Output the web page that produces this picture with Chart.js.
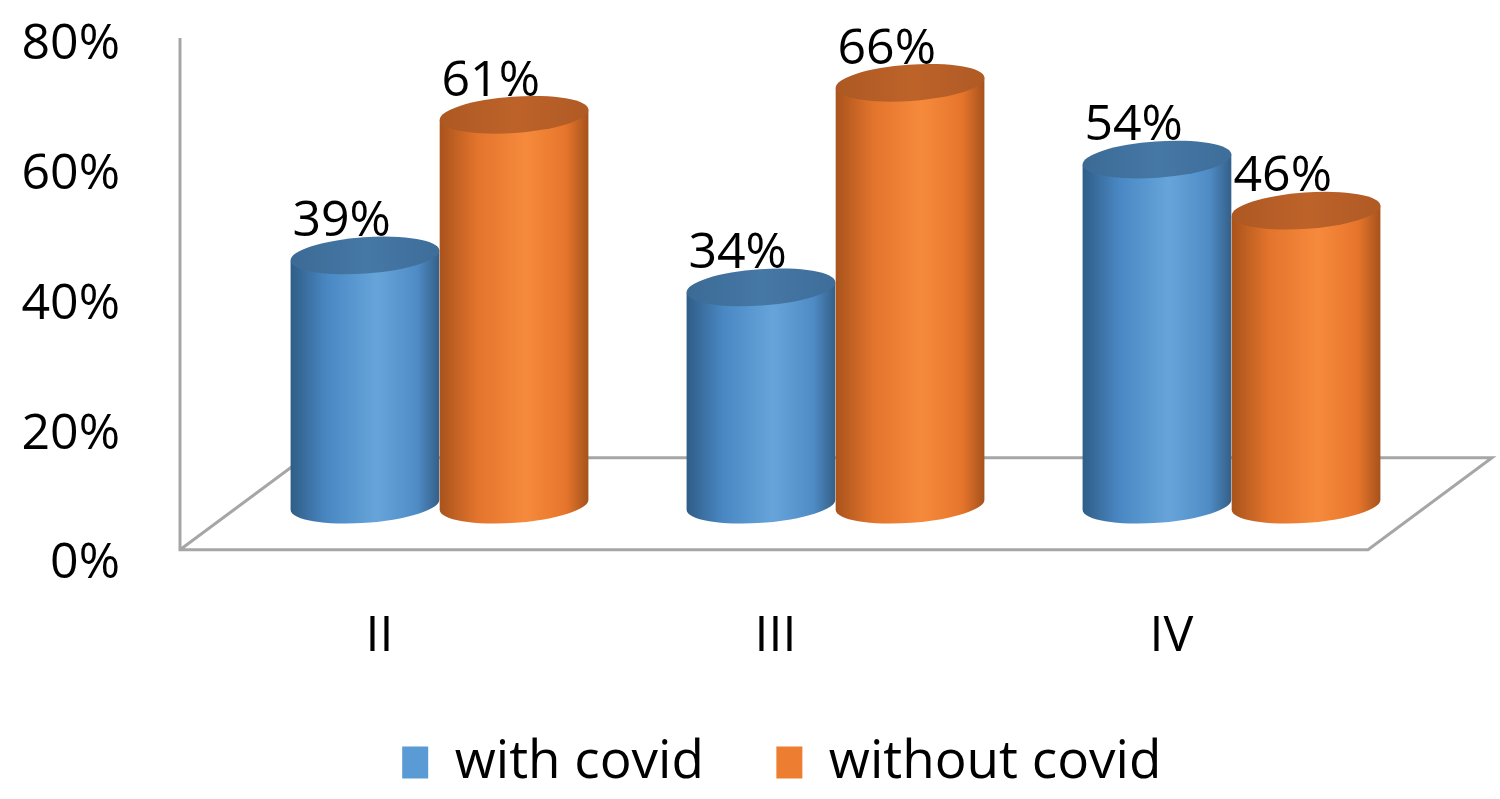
<!DOCTYPE html>
<html>
<head>
<meta charset="utf-8">
<script src="https://cdn.jsdelivr.net/npm/chart.js@4/dist/chart.umd.min.js"></script>
<style>
  html, body { margin: 0; padding: 0; background: #ffffff; }
  #wrap { width: 1500px; height: 799px; position: relative; }
</style>
</head>
<body>
<div id="wrap"><canvas id="c"></canvas></div>
<script>
// ---- data ----
const categories = ['II', 'III', 'IV'];
const seriesNames = ['with covid', 'without covid'];
const withCovid = [39, 34, 54];
const withoutCovid = [61, 66, 46];
const tickMin = 0;
const tickMax = 80;
const tickStep = 20;

// ---- styles ----
const FONT = "'Open Sans', 'Noto Sans', sans-serif";
const legendColors = ['#5b9bd5', '#ed7d31'];
const bodyStops = [
  ['#2f5d87', '#4a88c4', '#66a4da', '#4f8cc6', '#345f88'],
  ['#a9531c', '#e2742c', '#f68a3c', '#e6752b', '#a5521d']
];
const topStops = [
  ['#3b6a95', '#4678a6', '#3e6d99'],
  ['#ad5822', '#bd632a', '#b05a24']
];

const cylinders3d = {
  id: 'cylinders3d',
  beforeDatasetsDraw(chart) {
    const ctx = chart.ctx;
    const x = chart.scales.x, yb = chart.scales.yBar, yt = chart.scales.y;

    // value-axis tick labels (right aligned)
    ctx.save();
    ctx.font = '50px ' + FONT;
    ctx.fillStyle = '#000000';
    ctx.textAlign = 'right';
    ctx.textBaseline = 'middle';
    yt.ticks.forEach((t) => {
      ctx.fillText(t.label, 120, yt.getPixelForValue(t.value));
    });
    ctx.restore();

    // floor / wall frame
    const base = yb.getPixelForValue(0);
    const front = base + 45;
    const back = base - 47;
    const depthX = 124;
    const left = 180;
    const right = x.right - 61.5;
    ctx.save();
    ctx.strokeStyle = '#a6a6a6';
    ctx.lineWidth = 3;
    ctx.lineJoin = 'miter';
    ctx.beginPath();
    ctx.moveTo(left, chart.chartArea.top - 7);
    ctx.lineTo(left, front);
    ctx.lineTo(right, front);
    ctx.lineTo(right + depthX, back);
    ctx.lineTo(left + depthX, back);
    ctx.lineTo(left, front);
    ctx.stroke();
    ctx.restore();

    // cylinders
    const rot = -0.07;
    chart.data.datasets.forEach((ds, di) => {
      const meta = chart.getDatasetMeta(di);
      meta.data.forEach((bar) => {
        const p = bar.getProps(['x', 'y', 'base', 'width'], true);
        const rx = p.width / 2;
        const ry = p.width * 0.122;
        const c = Math.cos(rot), s = Math.sin(rot);
        const cx = p.x;
        const lt = { x: cx - rx * c, y: p.y - rx * s };
        const rt = { x: cx + rx * c, y: p.y + rx * s };
        const lb = { x: cx - rx * c, y: p.base - rx * s };
        const g = ctx.createLinearGradient(cx - rx, 0, cx + rx, 0);
        const st = bodyStops[di];
        g.addColorStop(0, st[0]);
        g.addColorStop(0.25, st[1]);
        g.addColorStop(0.58, st[2]);
        g.addColorStop(0.85, st[3]);
        g.addColorStop(1, st[4]);
        ctx.save();
        ctx.fillStyle = g;
        ctx.beginPath();
        ctx.moveTo(lt.x, lt.y);
        ctx.lineTo(lb.x, lb.y);
        ctx.ellipse(cx, p.base, rx, ry, rot, Math.PI, 0, true);
        ctx.lineTo(rt.x, rt.y);
        ctx.closePath();
        ctx.fill();
        const tg = ctx.createLinearGradient(cx - rx, 0, cx + rx, 0);
        const ts = topStops[di];
        tg.addColorStop(0, ts[0]);
        tg.addColorStop(0.5, ts[1]);
        tg.addColorStop(1, ts[2]);
        ctx.fillStyle = tg;
        ctx.beginPath();
        ctx.ellipse(cx, p.y, rx, ry, rot, 0, Math.PI * 2);
        ctx.fill();
        ctx.restore();
      });
    });

    // value labels
    ctx.save();
    ctx.font = '50px ' + FONT;
    ctx.fillStyle = '#000000';
    ctx.textAlign = 'left';
    ctx.textBaseline = 'alphabetic';
    chart.data.datasets.forEach((ds, di) => {
      const meta = chart.getDatasetMeta(di);
      meta.data.forEach((bar, i) => {
        const p = bar.getProps(['x', 'y', 'width'], true);
        const ry = p.width * 0.122;
        ctx.fillText(ds.data[i] + '%', p.x - p.width / 2 + 2, p.y - ry - 1);
      });
    });
    ctx.restore();
    return false;
  }
};

Chart.defaults.font.family = FONT;
Chart.defaults.color = '#000000';

new Chart(document.getElementById('c'), {
  type: 'bar',
  data: {
    labels: categories,
    datasets: [
      { label: seriesNames[0], data: withCovid, backgroundColor: legendColors[0], yAxisID: 'yBar' },
      { label: seriesNames[1], data: withoutCovid, backgroundColor: legendColors[1], yAxisID: 'yBar' }
    ]
  },
  plugins: [cylinders3d],
  options: {
    responsive: true,
    maintainAspectRatio: false,
    animation: false,
    layout: { padding: { left: 134, right: 70.5, top: 45, bottom: 0 } },
    datasets: { bar: { categoryPercentage: 0.753, barPercentage: 1.0 } },
    plugins: {
      tooltip: { enabled: false },
      legend: {
        position: 'bottom',
        labels: {
          font: { size: 53 },
          color: '#000000',
          boxWidth: 26,
          boxHeight: 32,
          padding: 72.5
        }
      }
    },
    scales: {
      x: {
        grid: { display: false, drawTicks: false },
        border: { display: false },
        ticks: { font: { size: 50 }, color: '#000000', padding: 43, labelOffset: -60 },
        afterFit(scale) { scale.height = 99.5; }
      },
      y: {
        display: false,
        position: 'left',
        min: tickMin, max: tickMax,
        ticks: {
          stepSize: tickStep,
          callback: (v) => v + '%'
        },
        afterFit(scale) {
          scale.width = 107.5;
          scale.paddingTop = 0;
          scale.paddingBottom = 0;
        }
      },
      yBar: {
        display: false,
        position: 'left',
        min: -9.28,
        max: 71.92
      }
    }
  }
});
</script>
</body>
</html>
